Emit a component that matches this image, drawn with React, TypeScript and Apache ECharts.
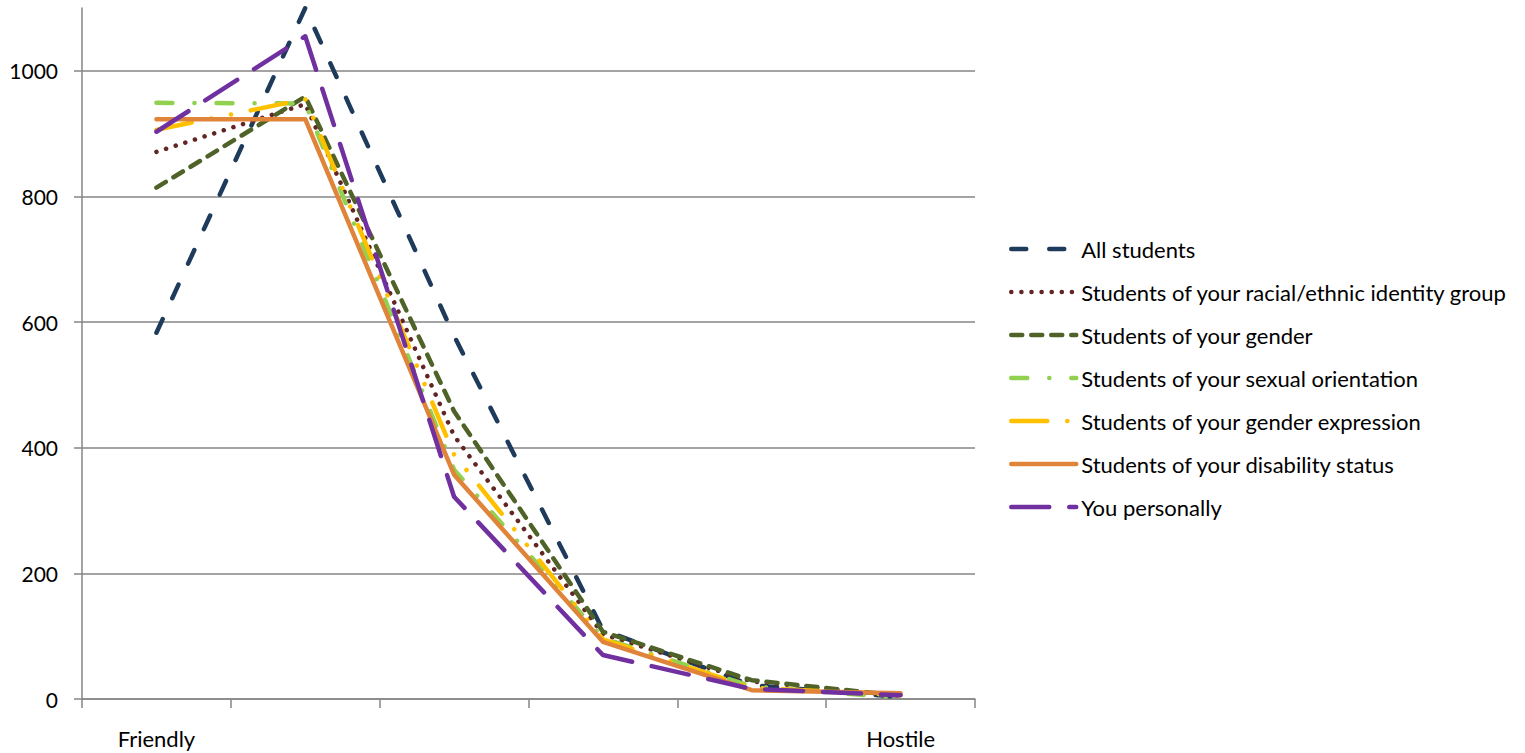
import React, { useEffect, useRef } from "react";
import * as echarts from "echarts";

const categories = ["Friendly", "", "", "", "", "Hostile"];
const seriesNames = [
  "All students",
  "Students of your racial/ethnic identity group",
  "Students of your gender",
  "Students of your sexual orientation",
  "Students of your gender expression",
  "Students of your disability status",
  "You personally",
];
const allStudents = [583, 1100, 578, 110, 22, 3];
const racialEthnic = [871, 947, 419, 103, 28, 5];
const gender = [814, 959, 458, 107, 30, 5];
const sexualOrientation = [949, 948, 365, 97, 20, 2];
const genderExpression = [906, 955, 389, 95, 18, 6];
const disabilityStatus = [923, 923, 357, 91, 14, 9];
const youPersonally = [903, 1055, 322, 70, 16, 6];

const seriesValues = [
  allStudents,
  racialEthnic,
  gender,
  sexualOrientation,
  genderExpression,
  disabilityStatus,
  youPersonally,
];
const colors = ["#1F3B5C", "#632523", "#4F6228", "#92D050", "#FFC000", "#E0843A", "#7030A0"];
const dashes: any[] = [
  [15, 23],
  [0.1, 10],
  [11, 9],
  [16, 22, 0.1, 22],
  [36, 20, 0.1, 20, 0.1, 20],
  "solid",
  [38, 20],
];

const FONT = "Lato";

export default function App() {
  const ref = useRef<HTMLDivElement>(null);
  useEffect(() => {
    if (!ref.current) return;
    const chart = echarts.init(ref.current, null, { renderer: "svg" });
    chart.setOption({
      animation: false,
      backgroundColor: "#fff",
      grid: { left: 82, right: 550, top: 8, bottom: 54, containLabel: false },
      legend: {
        orient: "vertical",
        left: 1004,
        top: 233,
        padding: 5,
        itemWidth: 65,
        itemHeight: 14,
        itemGap: 21,
        data: seriesNames,
        itemStyle: { opacity: 0 },
        lineStyle: { width: 4.5 },
        textStyle: { fontFamily: FONT, fontSize: 22, color: "#000" },
      },
      xAxis: {
        type: "category",
        data: categories,
        boundaryGap: true,
        axisLine: { lineStyle: { color: "#868686", width: 1.5 } },
        axisTick: { show: true, length: 9, inside: false, lineStyle: { color: "#868686", width: 1.5 } },
        axisLabel: { fontFamily: FONT, fontSize: 22, color: "#000", margin: 28, interval: 0 },
        splitLine: { show: false },
      },
      yAxis: {
        type: "value",
        min: 0,
        max: 1100,
        interval: 200,
        axisLine: { show: true, lineStyle: { color: "#868686", width: 1.5 } },
        axisTick: { show: true, length: 8, lineStyle: { color: "#868686", width: 1.5 } },
        axisLabel: {
          fontFamily: FONT,
          fontSize: 21,
          color: "#000",
          margin: 24,
          showMaxLabel: false,
          formatter: (v: number) => String(v),
        },
        splitLine: { show: true, showMaxLine: false, lineStyle: { color: "#868686", width: 1.5 } },
      },
      series: seriesNames.map((name, i) => ({
        name,
        type: "line",
        data: seriesValues[i],
        symbol: "none",
        showSymbol: false,
        color: colors[i],
        lineStyle: {
          color: colors[i],
          width: 4.5,
          type: dashes[i],
          cap: "round",
          join: "round",
        },
      })),
    });
    return () => chart.dispose();
  }, []);
  return (
    <div
      ref={ref}
      style={{ position: "absolute", left: 0, top: 0, width: 1525, height: 753 }}
    />
  );
}
